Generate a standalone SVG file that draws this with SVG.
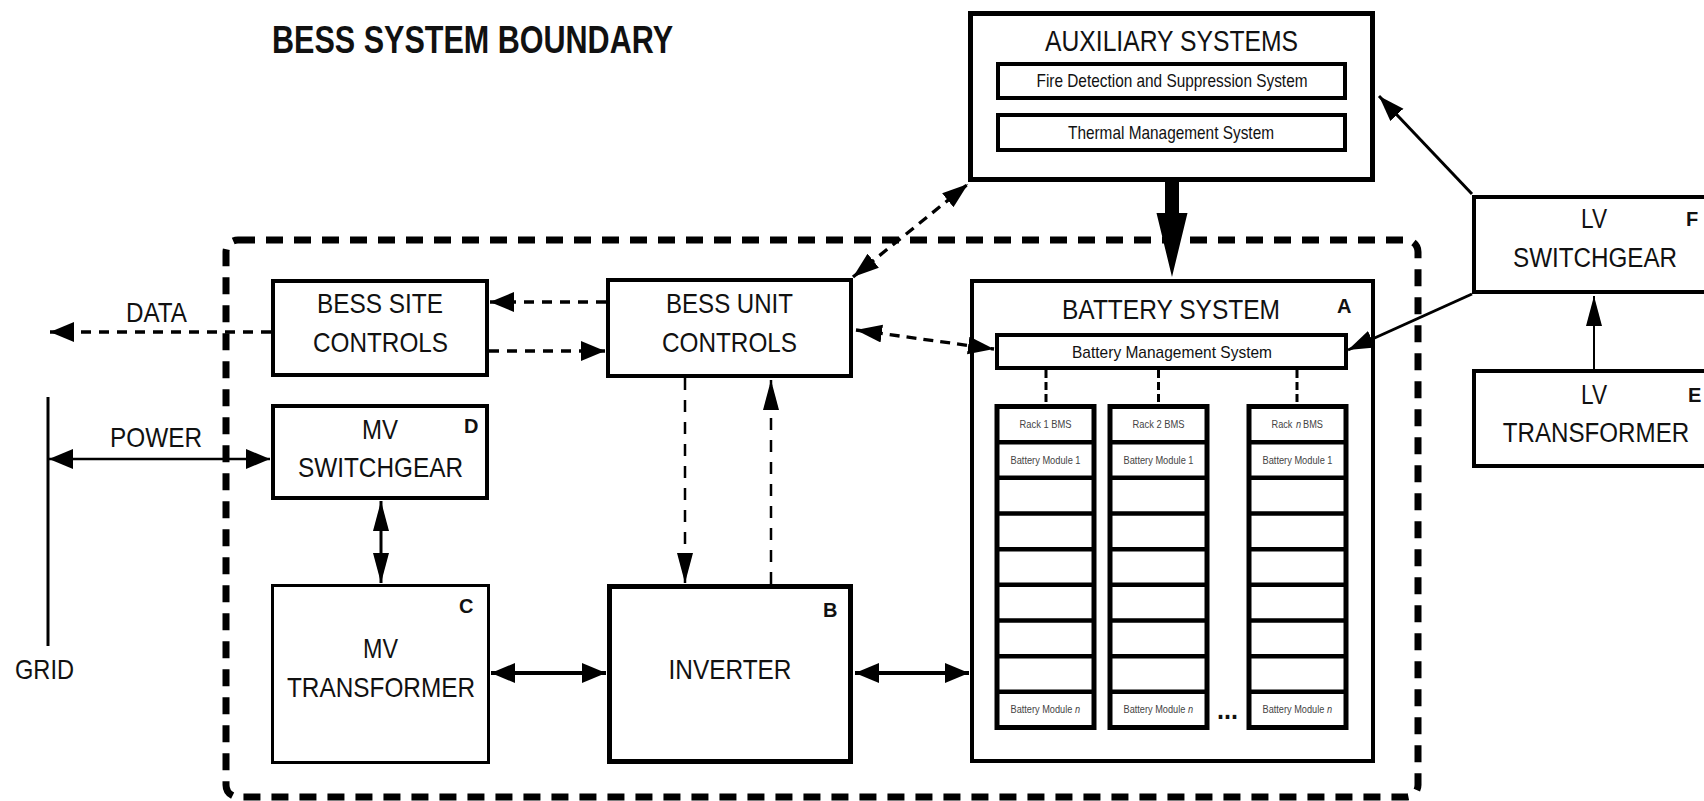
<svg xmlns="http://www.w3.org/2000/svg" xmlns:xlink="http://www.w3.org/1999/xlink" width="1704" height="801" viewBox="0 0 1704 801">
<style>
text{font-family:"Liberation Sans",Arial,Helvetica,sans-serif;fill:#111;text-anchor:middle}
.lbl{font-size:28px}
.sub{font-size:18.6px}
.tag{font-size:20px;font-weight:bold;text-anchor:start}
.rk{font-size:11.5px;fill:#444}
.rs{font-size:11.5px;fill:#444;text-anchor:start}
.it{font-style:italic}
.box{fill:#fff;stroke:#000;stroke-width:4}
.inner{fill:#fff;stroke:#000;stroke-width:4}
.bound{fill:none;stroke:#000;stroke-width:7;stroke-dasharray:17 11}
.dh{fill:none;stroke:#000;stroke-width:3.3;stroke-dasharray:10 8}
.dv{fill:none;stroke:#000;stroke-width:2.5;stroke-dasharray:12 10}
.dd{fill:none;stroke:#000;stroke-width:3.3;stroke-dasharray:10 7}
.sl{fill:none;stroke:#000}
</style>
<defs>
<marker id="ah" markerUnits="userSpaceOnUse" markerWidth="26" markerHeight="22" refX="24" refY="10" orient="auto-start-reverse" viewBox="0 0 26 22"><path d="M0,0L24,10L0,20Z" fill="#000"/></marker>
<marker id="av" markerUnits="userSpaceOnUse" markerWidth="32" markerHeight="18" refX="30" refY="8" orient="auto-start-reverse" viewBox="0 0 32 18"><path d="M0,0L30,8L0,16Z" fill="#000"/></marker>
<marker id="ad" markerUnits="userSpaceOnUse" markerWidth="28" markerHeight="20" refX="26" refY="9" orient="auto-start-reverse" viewBox="0 0 28 20"><path d="M0,0L26,9L0,18Z" fill="#000"/></marker>
<g id="rackFrame">
<rect x="0" y="406.5" width="97" height="321" fill="#fff" stroke="#000" stroke-width="5"/>
<path d="M0,442.2H97M0,477.8H97M0,513.5H97M0,549.2H97M0,584.8H97M0,620.5H97M0,656.2H97M0,691.8H97" stroke="#000" stroke-width="4.5"/>
</g>
</defs>

<text x="272" y="53" style="font-size:39px;font-weight:bold;text-anchor:start" textLength="401" lengthAdjust="spacingAndGlyphs">BESS SYSTEM BOUNDARY</text>

<rect id="boundary" class="bound" x="226" y="240" width="1192" height="557" rx="12"/>

<g id="node-aux">
<rect class="box" x="970.5" y="13.5" width="402" height="166" style="stroke-width:5"/>
<text class="lbl" x="1171.5" y="51" style="font-size:29px" textLength="253" lengthAdjust="spacingAndGlyphs">AUXILIARY SYSTEMS</text>
<rect class="inner" x="998" y="64" width="347" height="34"/>
<text class="sub" x="1172" y="87" textLength="271" lengthAdjust="spacingAndGlyphs">Fire Detection and Suppression System</text>
<rect class="inner" x="998" y="115" width="347" height="35"/>
<text class="sub" x="1171" y="139" textLength="206" lengthAdjust="spacingAndGlyphs">Thermal Management System</text>
</g>

<g id="node-battery">
<rect class="box" x="972" y="281" width="401" height="480"/>
<text class="lbl" x="1171" y="319" textLength="218" lengthAdjust="spacingAndGlyphs">BATTERY SYSTEM</text>
<text class="tag" x="1337" y="313">A</text>
<rect class="inner" x="997" y="335" width="349" height="33"/>
<text x="1172" y="358" style="font-size:17px" textLength="200" lengthAdjust="spacingAndGlyphs">Battery Management System</text>
<g id="rack-1">
<use xlink:href="#rackFrame" href="#rackFrame" x="997"/>
<text class="rk" x="1045.5" y="428" textLength="52" lengthAdjust="spacingAndGlyphs">Rack 1 BMS</text>
<text class="rk" x="1045.5" y="463.5" textLength="70" lengthAdjust="spacingAndGlyphs">Battery Module 1</text>
<text class="rs" transform="translate(1010.5,713) scale(0.8,1)">Battery Module</text>
<text class="rs it" transform="translate(1075,713) scale(0.8,1)">n</text>
</g>
<g id="rack-2">
<use xlink:href="#rackFrame" href="#rackFrame" x="1110"/>
<text class="rk" x="1158.5" y="428" textLength="52" lengthAdjust="spacingAndGlyphs">Rack 2 BMS</text>
<text class="rk" x="1158.5" y="463.5" textLength="70" lengthAdjust="spacingAndGlyphs">Battery Module 1</text>
<text class="rs" transform="translate(1123.5,713) scale(0.8,1)">Battery Module</text>
<text class="rs it" transform="translate(1188,713) scale(0.8,1)">n</text>
</g>
<g id="rack-n">
<use xlink:href="#rackFrame" href="#rackFrame" x="1249"/>
<text class="rs" transform="translate(1271.5,428) scale(0.8,1)">Rack</text>
<text class="rs it" transform="translate(1296,428) scale(0.8,1)">n</text>
<text class="rs" transform="translate(1303,428) scale(0.8,1)">BMS</text>
<text class="rk" x="1297.5" y="463.5" textLength="70" lengthAdjust="spacingAndGlyphs">Battery Module 1</text>
<text class="rs" transform="translate(1262.5,713) scale(0.8,1)">Battery Module</text>
<text class="rs it" transform="translate(1327,713) scale(0.8,1)">n</text>
</g>
<text x="1227.5" y="719" style="font-size:28px;font-weight:bold" textLength="21" lengthAdjust="spacingAndGlyphs">...</text>
</g>

<g id="node-lv-switchgear">
<rect class="box" x="1474" y="197" width="240" height="95"/>
<text class="lbl" x="1594" y="228" style="font-size:27px" textLength="26" lengthAdjust="spacingAndGlyphs">LV</text>
<text class="lbl" x="1595" y="267" style="font-size:27px" textLength="164" lengthAdjust="spacingAndGlyphs">SWITCHGEAR</text>
<text class="tag" x="1686" y="226">F</text>
</g>

<g id="node-lv-transformer">
<rect class="box" x="1474" y="371" width="240" height="95"/>
<text class="lbl" x="1594" y="404" style="font-size:27px" textLength="26" lengthAdjust="spacingAndGlyphs">LV</text>
<text class="lbl" transform="translate(1596,442) scale(0.894,1)" style="font-size:27px">TRANSFORMER</text>
<text class="tag" x="1688" y="402">E</text>
</g>

<g id="node-site-controls">
<rect class="box" x="273" y="281" width="214" height="94"/>
<text class="lbl" x="380" y="313" textLength="126" lengthAdjust="spacingAndGlyphs">BESS SITE</text>
<text class="lbl" x="380.5" y="352" textLength="135" lengthAdjust="spacingAndGlyphs">CONTROLS</text>
</g>

<g id="node-unit-controls">
<rect class="box" x="608" y="280" width="243" height="96"/>
<text class="lbl" x="729.5" y="313" textLength="127" lengthAdjust="spacingAndGlyphs">BESS UNIT</text>
<text class="lbl" x="729.5" y="352" textLength="135" lengthAdjust="spacingAndGlyphs">CONTROLS</text>
</g>

<g id="node-mv-switchgear">
<rect class="box" x="273" y="406" width="214" height="92"/>
<text class="lbl" x="380" y="439" textLength="36" lengthAdjust="spacingAndGlyphs">MV</text>
<text class="lbl" x="380.5" y="477" textLength="165" lengthAdjust="spacingAndGlyphs">SWITCHGEAR</text>
<text class="tag" x="464" y="433">D</text>
</g>

<g id="node-mv-transformer">
<rect class="box" x="272.5" y="585.5" width="216" height="177" style="stroke-width:3"/>
<text class="lbl" x="380.5" y="658" textLength="35" lengthAdjust="spacingAndGlyphs">MV</text>
<text class="lbl" x="381" y="697" textLength="188" lengthAdjust="spacingAndGlyphs">TRANSFORMER</text>
<text class="tag" x="459" y="613">C</text>
</g>

<g id="node-inverter">
<rect class="box" x="609.5" y="586.5" width="241" height="175" style="stroke-width:5"/>
<text class="lbl" x="730" y="679" textLength="123" lengthAdjust="spacingAndGlyphs">INVERTER</text>
<text class="tag" x="823" y="617">B</text>
</g>

<g id="grid">
<line class="sl" x1="48" y1="397" x2="48" y2="646" stroke-width="3"/>
<text class="lbl" x="44.5" y="679" textLength="59" lengthAdjust="spacingAndGlyphs">GRID</text>
</g>

<g id="connectors">
<line class="dh" x1="606" y1="302" x2="490" y2="302" marker-end="url(#ah)"/>
<line class="dh" x1="489" y1="351" x2="605" y2="351" marker-end="url(#ah)"/>
<line class="dh" x1="271" y1="332" x2="50" y2="332" marker-end="url(#ah)"/>
<text class="lbl" x="156.5" y="322" textLength="61" lengthAdjust="spacingAndGlyphs">DATA</text>
<line class="sl" x1="49" y1="459" x2="270" y2="459" stroke-width="2.5" marker-start="url(#ah)" marker-end="url(#ah)"/>
<text class="lbl" x="156" y="447" textLength="92" lengthAdjust="spacingAndGlyphs">POWER</text>
<line class="dd" x1="853" y1="277" x2="968" y2="184" marker-start="url(#ad)" marker-end="url(#ad)"/>
<line class="dd" x1="856" y1="330" x2="994" y2="349" marker-start="url(#ad)" marker-end="url(#ad)"/>
<line class="dv" x1="685" y1="378" x2="685" y2="583" marker-end="url(#av)"/>
<line class="dv" x1="771" y1="584" x2="771" y2="380" marker-end="url(#av)"/>
<line class="sl" x1="381" y1="501" x2="381" y2="583" stroke-width="3" marker-start="url(#av)" marker-end="url(#av)"/>
<line class="sl" x1="491" y1="673" x2="606" y2="673" stroke-width="4" marker-start="url(#ah)" marker-end="url(#ah)"/>
<line class="sl" x1="855" y1="673" x2="969" y2="673" stroke-width="4" marker-start="url(#ah)" marker-end="url(#ah)"/>
<path d="M1046,370V404M1158.5,370V404M1297,370V404" fill="none" stroke="#000" stroke-width="3" stroke-dasharray="8 4"/>
<path d="M1165,182H1179V213H1187.5L1172,277L1156.5,213H1165Z" fill="#000"/>
<line class="sl" x1="1594" y1="369" x2="1594" y2="296" stroke-width="2" marker-end="url(#av)"/>
<line class="sl" x1="1472" y1="294" x2="1348" y2="350" stroke-width="3" marker-end="url(#ad)"/>
<line class="sl" x1="1472" y1="194" x2="1379" y2="96" stroke-width="3" marker-end="url(#ad)"/>
</g>
</svg>
